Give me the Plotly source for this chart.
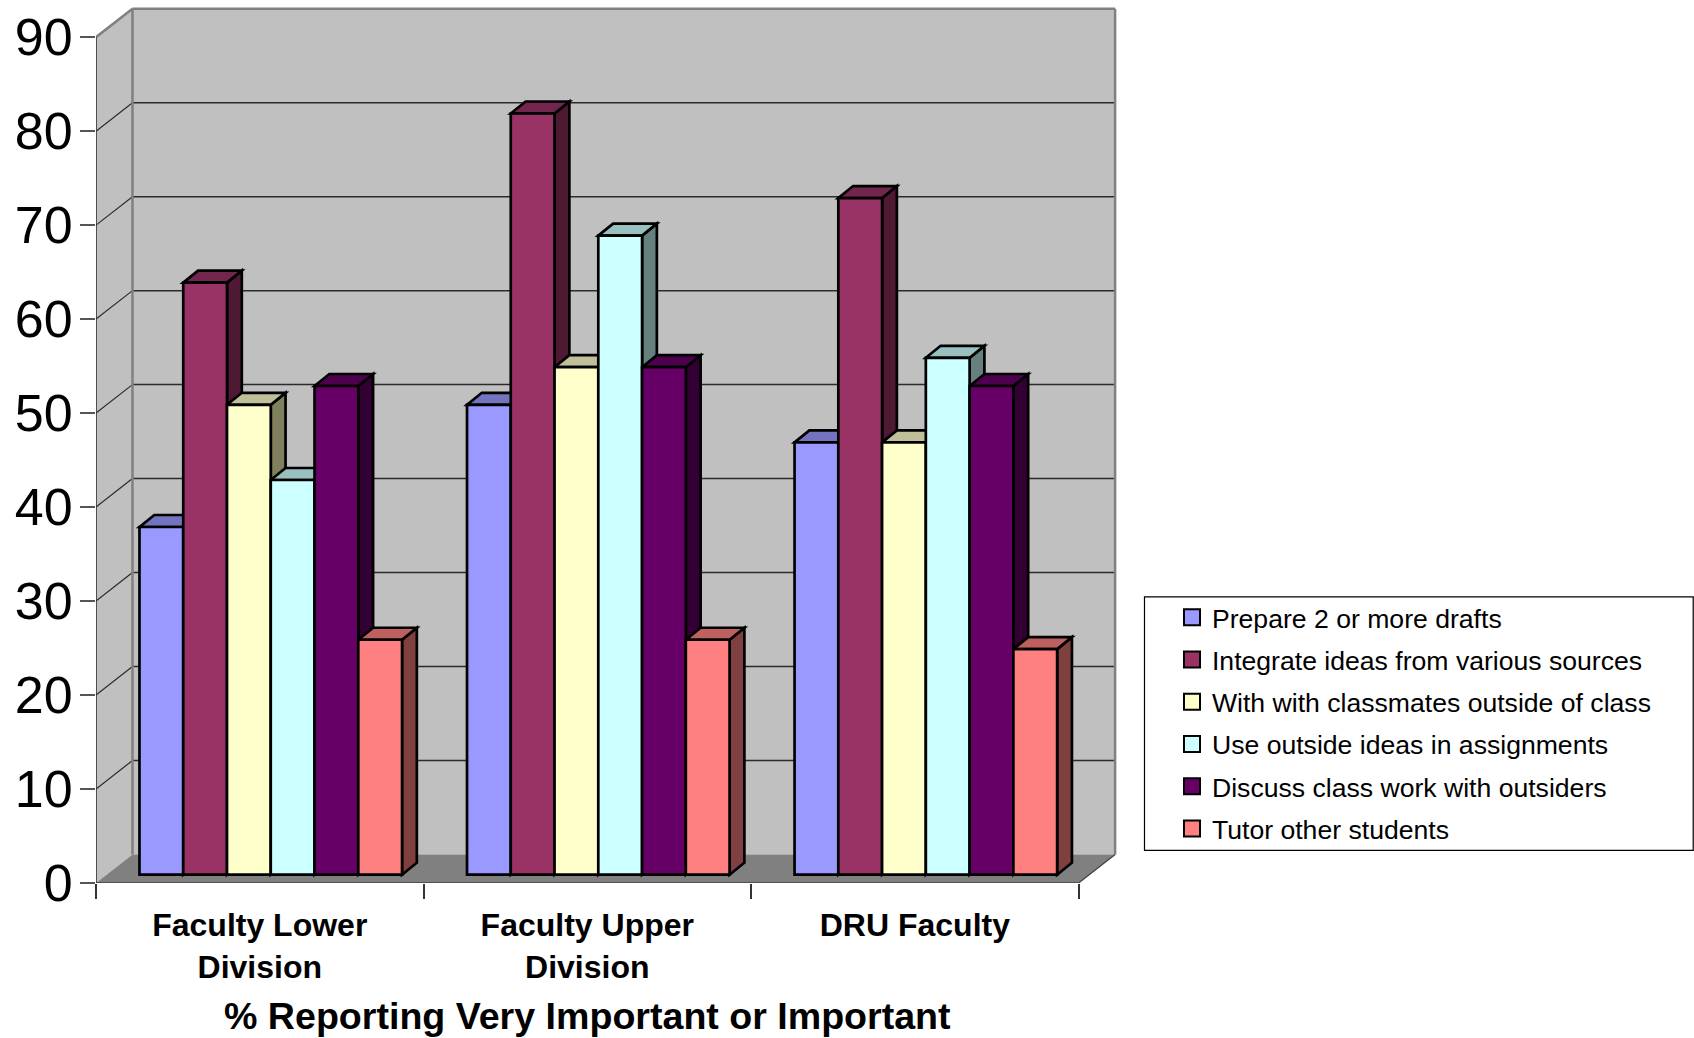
import plotly.graph_objects as go

categories = ["Faculty Lower<br>Division", "Faculty Upper<br>Division", "DRU Faculty"]
series_names = [
    "Prepare 2 or more drafts",
    "Integrate ideas from various sources",
    "With with classmates outside of class",
    "Use outside ideas in assignments",
    "Discuss class work with outsiders",
    "Tutor other students",
]
prepare = [37, 50, 46]
integrate = [63, 81, 72]
classmates = [50, 54, 46]
outside_ideas = [42, 68, 55]
discuss = [52, 54, 52]
tutor = [25, 25, 24]
series_values = [prepare, integrate, classmates, outside_ideas, discuss, tutor]
y_ticks = [0, 10, 20, 30, 40, 50, 60, 70, 80, 90]
x_title = "% Reporting Very Important or Important"

front_colors = ["#9999FF", "#993366", "#FFFFCC", "#CCFFFF", "#660066", "#FF8080"]
top_colors = ["#7373BF", "#73264D", "#BFBF99", "#99BFBF", "#4D004D", "#BF6060"]
side_colors = ["#4D4D80", "#4D1933", "#80805F", "#668080", "#330033", "#804040"]

W, H = 1694, 1038
X0_PX, Y0_PX = 95.5, 883.2
CAT_PX = 327.7
UNIT_PX = 9.4
PLOT_R, PLOT_T = 1118, 6

WALL_DX = 36.5 / CAT_PX
WALL_DY = 28.5 / UNIT_PX
BAR_DX = 14.8 / CAT_PX
BAR_DY = 12.0 / UNIT_PX
BASE_Y = 8.3 / UNIT_PX
SHIFT_X = 11.0 / CAT_PX
GAP = 65.0 / CAT_PX
N = len(series_names)
BAR_W = (1 - GAP) / N

x_centers = [i + 0.5 + SHIFT_X for i in range(len(categories))]
ncat = len(categories)
top_y = max(y_ticks)
BAR_LINE = 2.7


def poly(pts, fill, line="rgba(0,0,0,0)", width=0):
    path = "M" + "L".join(f"{a},{b}" for a, b in pts) + "Z"
    return dict(type="path", path=path, xref="x", yref="y", layer="below",
                fillcolor=fill, line=dict(color=line, width=width))


def seg(a, b, color, width):
    return dict(type="line", xref="x", yref="y", layer="below", x0=a[0], y0=a[1], x1=b[0], y1=b[1],
                line=dict(color=color, width=width))


WALL = "#C0C0C0"
FLOOR = "#808080"
EDGE = "#808080"
GRID = "#2B2B2B"

shapes = [
    poly([(WALL_DX, WALL_DY), (ncat + WALL_DX, WALL_DY), (ncat + WALL_DX, top_y + WALL_DY), (WALL_DX, top_y + WALL_DY)], WALL),
    poly([(0, 0), (WALL_DX, WALL_DY), (WALL_DX, top_y + WALL_DY), (0, top_y)], WALL),
]
for v in y_ticks[1:-1]:
    shapes.append(seg((WALL_DX, v + WALL_DY), (ncat + WALL_DX, v + WALL_DY), GRID, 1.5))
    shapes.append(seg((0, v), (WALL_DX, v + WALL_DY), GRID, 1.2))
shapes += [
    poly([(0, 0), (ncat, 0), (ncat + WALL_DX, WALL_DY), (WALL_DX, WALL_DY)], FLOOR),
    seg((WALL_DX, WALL_DY), (WALL_DX, top_y + WALL_DY), EDGE, 2.5),
    seg((WALL_DX, top_y + WALL_DY), (ncat + WALL_DX, top_y + WALL_DY), EDGE, 2.5),
    seg((ncat + WALL_DX, WALL_DY), (ncat + WALL_DX, top_y + WALL_DY), EDGE, 2.5),
    seg((0, top_y), (WALL_DX, top_y + WALL_DY), EDGE, 2.5),
    seg((0, 0), (ncat, 0), "#404040", 1.5),
    seg((ncat, 0), (ncat + WALL_DX, WALL_DY), "#404040", 1.2),
]

# depth faces of every bar, left to right, beneath the front faces
for c in range(ncat):
    for s in range(N):
        v = series_values[s][c] + BASE_Y
        left = x_centers[c] - N * BAR_W / 2 + s * BAR_W
        right = left + BAR_W
        shapes.append(poly([(right, BASE_Y), (right + BAR_DX, BASE_Y + BAR_DY), (right + BAR_DX, v + BAR_DY), (right, v)],
                           side_colors[s], "#000000", BAR_LINE))
        shapes.append(poly([(left, v), (left + BAR_DX, v + BAR_DY), (right + BAR_DX, v + BAR_DY), (right, v)],
                           top_colors[s], "#000000", BAR_LINE))

# legend box
LEG_L, LEG_T, LEG_R, LEG_B = 1144.5, 597, 1693.5, 850.5
plot_w = PLOT_R - X0_PX
plot_h = Y0_PX - PLOT_T


def px(x):
    return (x - X0_PX) / plot_w


def py(y):
    return (Y0_PX - y) / plot_h


shapes.append(dict(type="rect", xref="paper", yref="paper", x0=px(LEG_L), x1=px(LEG_R), y0=py(LEG_B), y1=py(LEG_T),
                   line=dict(color="#000000", width=1.2), fillcolor="#FFFFFF", layer="below"))

fig = go.Figure()
for s in range(N):
    fig.add_trace(go.Bar(
        x=x_centers, y=series_values[s], base=BASE_Y, name=series_names[s],
        marker=dict(color=front_colors[s], line=dict(color="#000000", width=BAR_LINE)),
        showlegend=False, legendgroup=f"g{s}",
    ))
for s in range(N):
    fig.add_trace(go.Scatter(
        x=[None], y=[None], mode="markers", name=series_names[s], legendgroup=f"g{s}",
        marker=dict(symbol="square", size=16, color=front_colors[s], line=dict(color="#000000", width=2)),
        hoverinfo="skip",
    ))
fig.add_trace(go.Scatter(
    x=[0, 0], y=[0, top_y], mode="lines", line=dict(color="#333333", width=1.6),
    cliponaxis=False, showlegend=False, hoverinfo="skip",
))

FONT = "Liberation Sans, Arial, sans-serif"
fig.update_layout(
    width=W, height=H,
    autosize=False,
    margin=dict(l=X0_PX, r=W - PLOT_R, t=PLOT_T, b=H - Y0_PX, pad=0, autoexpand=False),
    paper_bgcolor="#FFFFFF", plot_bgcolor="#FFFFFF",
    barmode="group", bargap=GAP, bargroupgap=0,
    shapes=shapes,
    font=dict(family=FONT, color="#000000"),
    legend=dict(
        x=px(1172), xanchor="left", y=py(593.5), yanchor="top",
        font=dict(size=26.6, family=FONT), tracegroupgap=4.7, itemwidth=30,
        bgcolor="rgba(0,0,0,0)", borderwidth=0,
    ),
    xaxis=dict(
        range=[0, plot_w / CAT_PX], showgrid=False, zeroline=False, showline=False,
        tickmode="array", tickvals=[i + 0.5 for i in range(ncat)], ticktext=categories,
        ticks="outside", tickcolor="rgba(0,0,0,0)", ticklen=14,
        tickfont=dict(size=32, family=FONT, weight="bold"),
        minor=dict(tickmode="array", tickvals=list(range(ncat + 1)), ticks="outside", ticklen=15,
                   tickcolor="#333333", tickwidth=1.5, showgrid=False),
    ),
    yaxis=dict(
        range=[0, plot_h / UNIT_PX], showgrid=False, zeroline=False, showline=False,
        anchor="x",
        tickmode="array", tickvals=y_ticks, ticks="outside", ticklen=15, tickcolor="#555555", tickwidth=1.5,
        tickfont=dict(size=52, family=FONT), ticklabelstandoff=-3,
    ),
    annotations=[dict(
        text=f"<b>{x_title}</b>", xref="x", yref="paper", x=ncat / 2, y=py(1016), showarrow=False,
        xanchor="center", yanchor="middle", font=dict(size=37.6, family=FONT),
    )],
)
fig.write_html("out.html", config=dict(displayModeBar=False), post_script="document.body.style.margin='0';")
